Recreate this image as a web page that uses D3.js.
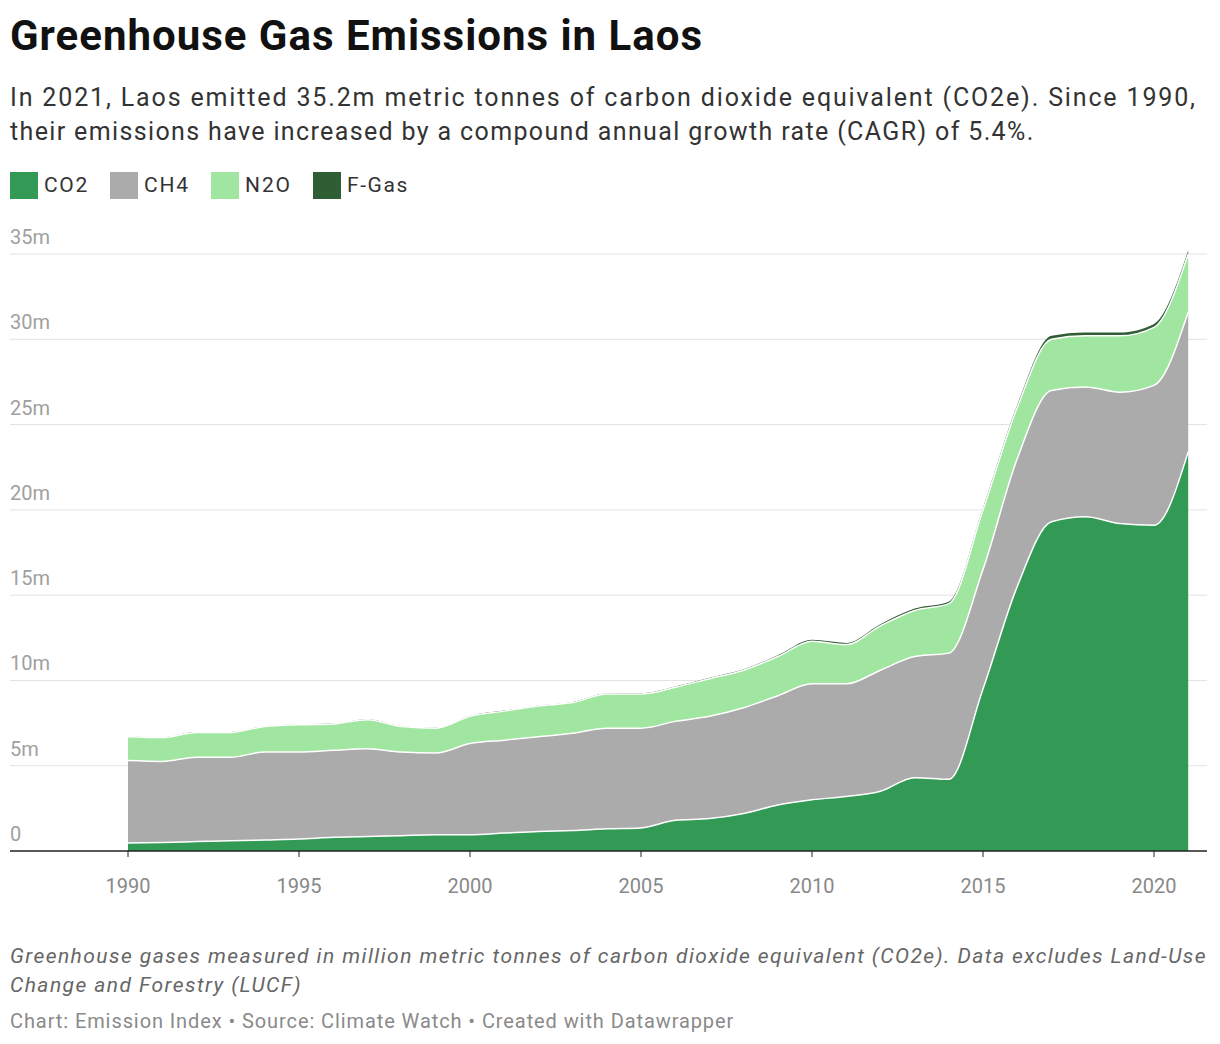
<!DOCTYPE html><html><head><meta charset="utf-8">
<script src="https://cdn.jsdelivr.net/npm/d3@7"></script>
<style>body{margin:0;background:#fff;font-family:Roboto,sans-serif}</style></head><body>
<svg id="c" width="1220" height="1044"></svg>
<script>
const years=d3.range(1990,2022);
const co2=[0.47,0.5,0.55,0.6,0.65,0.7,0.8,0.85,0.9,0.95,0.95,1.05,1.15,1.2,1.3,1.35,1.8,1.9,2.2,2.7,3.0,3.2,3.5,4.3,4.2,9.5,15.5,19.3,19.6,19.2,19.1,23.4];
const ch4=[4.83,4.75,4.95,4.9,5.15,5.1,5.1,5.15,4.9,4.8,5.35,5.45,5.55,5.7,5.9,5.85,5.8,6.0,6.2,6.4,6.8,6.6,7.1,7.1,7.4,7.0,7.5,7.7,7.6,7.7,8.2,8.2];
const n2o=[1.4,1.4,1.45,1.45,1.5,1.6,1.55,1.7,1.5,1.45,1.6,1.7,1.8,1.8,2.0,2.0,2.0,2.2,2.2,2.3,2.5,2.3,2.6,2.7,2.9,3.5,3.0,3.0,3.0,3.3,3.4,3.4];
const fgas=[0.02,0.02,0.02,0.02,0.02,0.02,0.02,0.02,0.02,0.02,0.03,0.03,0.03,0.04,0.04,0.05,0.05,0.06,0.06,0.07,0.08,0.1,0.1,0.12,0.12,0.13,0.15,0.2,0.2,0.2,0.2,0.2];
const seriesNames=["CO2","CH4","N2O","F-Gas"];
const colors=["#339a56","#ababab","#a0e6a0","#2f5e35"];
const yTicks=[0,5,10,15,20,25,30,35];
const xTicks=[1990,1995,2000,2005,2010,2015,2020];

const svg=d3.select("#c");
function fit(sel,w){const n=sel.node();const l=n.getComputedTextLength();const c=n.textContent.length;sel.attr("letter-spacing",((w-l)/c).toFixed(2));return sel;}
fit(svg.append("text").attr("x",10).attr("y",50).attr("font-size",42).attr("font-weight",700).attr("fill","#111").text("Greenhouse Gas Emissions in Laos"),693);
[["In 2021, Laos emitted 35.2m metric tonnes of carbon dioxide equivalent (CO2e). Since 1990,",1187],["their emissions have increased by a compound annual growth rate (CAGR) of 5.4%.",1025]].forEach((t,i)=>
fit(svg.append("text").attr("x",10).attr("y",106+i*34).attr("font-size",25).attr("fill","#333").text(t[0]),t[1]));
const legW=[45,46,47,62];
let lx=10;
seriesNames.forEach((n,i)=>{
 svg.append("rect").attr("x",lx).attr("y",172).attr("width",28).attr("height",27).attr("fill",colors[i]);
 const t=fit(svg.append("text").attr("x",lx+34).attr("y",192).attr("font-size",21).attr("fill","#333").text(n),legW[i]);
 lx+=34+legW[i]+21;
});
const x=d3.scaleLinear().domain([1990,2020]).range([128,1154]);
const y=d3.scaleLinear().domain([0,35]).range([851,254]);
yTicks.forEach(v=>{
 if(v>0)svg.append("line").attr("x1",10).attr("x2",1207).attr("y1",y(v)).attr("y2",y(v)).attr("stroke","#e2e2e2");
 svg.append("text").attr("x",10).attr("y",y(v)-10).attr("font-size",20).attr("fill","#a0a0a0").text(v===0?"0":v+"m");
});
const rows=years.map((yr,i)=>({year:yr,"CO2":co2[i],"CH4":ch4[i],"N2O":n2o[i],"F-Gas":fgas[i]}));
const stack=d3.stack().keys(seriesNames)(rows);
const area=d3.area().curve(d3.curveMonotoneX).x(d=>x(d.data.year)).y0(d=>y(d[0])).y1(d=>y(d[1]));
const line=d3.line().curve(d3.curveMonotoneX).x(d=>x(d.data.year)).y(d=>y(d[1]));
stack.forEach((s,i)=>svg.append("path").attr("d",area(s)).attr("fill",colors[i]));
stack.slice(0,3).forEach(s=>svg.append("path").attr("d",line(s)).attr("fill","none").attr("stroke","#fff").attr("stroke-width",1.5));
svg.append("line").attr("x1",10).attr("x2",1207).attr("y1",851).attr("y2",851).attr("stroke","#222").attr("stroke-width",1.5);
xTicks.forEach(v=>{
 svg.append("line").attr("x1",x(v)).attr("x2",x(v)).attr("y1",851).attr("y2",857).attr("stroke","#222");
 svg.append("text").attr("x",x(v)).attr("y",893).attr("text-anchor","middle").attr("font-size",20).attr("fill","#888").text(v);
});
[["Greenhouse gases measured in million metric tonnes of carbon dioxide equivalent (CO2e). Data excludes Land-Use",1197],["Change and Forestry (LUCF)",292]].forEach((t,i)=>
fit(svg.append("text").attr("x",10).attr("y",963+i*29).attr("font-size",21).attr("font-style","italic").attr("fill","#666").text(t[0]),t[1]));
fit(svg.append("text").attr("x",10).attr("y",1028).attr("font-size",20).attr("fill","#8a8a8a").text("Chart: Emission Index • Source: Climate Watch • Created with Datawrapper"),724);
</script></body></html>
